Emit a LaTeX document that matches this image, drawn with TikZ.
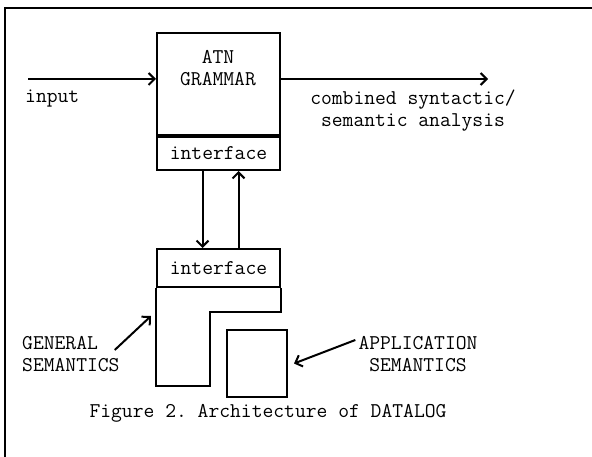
\documentclass[tikz,border=0pt]{standalone}
\usepackage{fontspec}
\setmonofont{Latin Modern Mono}
\usetikzlibrary{arrows.meta}
\tikzset{
  blk/.style={draw, line width=2pt, inner sep=0pt, minimum width=123pt},
  lbl/.style={font=\ttfamily\fontsize{21}{22}\selectfont, inner sep=0pt, align=center},
  flow/.style={line width=2pt, -{Straight Barb[length=6pt,width=12pt,line width=2pt]}}
}

\begin{document}
\begin{tikzpicture}[x=1pt, y=-1pt]
    \useasboundingbox (0,0) rectangle (592,457);
    \draw[line width=1.5pt] (5,457) -- (5,8) -- (592,8);

    % parser
    \node[blk, minimum height=102pt, anchor=north west] (atn) at (156,32) {};
    \node[lbl, anchor=north] (atnlbl) at (218,50) {ATN\\GRAMMAR};
    \node[blk, lbl, minimum height=33pt, anchor=north] (atnif) at (atn.south) {interface};

    \coordinate (in) at (28,79);
    \coordinate (out) at (488,79);
    \draw[flow] (in) -- (in -| atn.west);
    \draw[flow] (in -| atn.east) -- (out);
    \node[lbl, anchor=west] (inlbl) at (25,99) {input};
    \node[lbl] (outlbl) at (413,111) {combined syntactic/\\semantic analysis};

    % semantics
    \node[blk, lbl, minimum height=38pt, anchor=north west] (semif) at (156,248) {interface};
    \draw[line width=2pt, line join=miter] (semif.south west) -- (156,386) -- (210,386) -- (210,312)
        -- (semif.south east |- 0,312) -- (semif.south east);
    \node[blk, minimum width=60pt, minimum height=67pt, anchor=north west] (appsem) at (226,329) {};

    \draw[flow] ([xshift=-16pt]atnif.south) -- ([xshift=-16pt]semif.north);
    \draw[flow] ([xshift=20pt]semif.north) -- ([xshift=20pt]atnif.south);

    \node[lbl, anchor=west, align=left] (gen) at (22,354) {GENERAL\\SEMANTICS};
    \node[lbl] (app) at (418,354) {APPLICATION\\SEMANTICS};
    \coordinate (genin) at (151,316);
    \draw[flow] ([shift={(-5,-4)}]gen.east) -- (genin);
    \draw[flow] ([shift={(-3,-14)}]app.west) -- ([xshift=6pt]appsem.east);

    \node[lbl] (caption) at (268,413) {Figure 2. Architecture of DATALOG};
\end{tikzpicture}
\end{document}
